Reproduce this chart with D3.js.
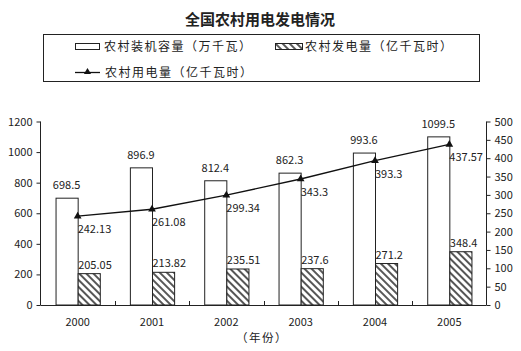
<!DOCTYPE html>
<meta charset="utf-8">
<style>
 body { margin: 0; background: #fff; }
 text { font-family: "Noto Sans CJK SC", "DejaVu Sans", sans-serif; fill: #222; }
</style>
<body>
<script src="https://d3js.org/d3.v7.min.js"></script>
<script>
 // chart data
var years = ["2000", "2001", "2002", "2003", "2004", "2005"];
var capacity = [698.5, 896.9, 812.4, 862.3, 993.6, 1099.5];       // 农村装机容量（万千瓦）
var generation = [205.05, 213.82, 235.51, 237.6, 271.2, 348.4];  // 农村发电量（亿千瓦时）
var consumption = [242.13, 261.08, 299.34, 343.3, 393.3, 437.57]; // 农村用电量（亿千瓦时）
var leftTicks = [0, 200, 400, 600, 800, 1000, 1200];
var rightTicks = [0, 50, 100, 150, 200, 250, 300, 350, 400, 450, 500];

var width = 521, height = 351;
var plot = { left: 40.5, right: 486.5, top: 121.5, bottom: 305 };

var svg = d3.select("body").append("svg")
 .attr("width", width)
 .attr("height", height)
 .style("display", "block");

 // hatch pattern for the generation bars (lines running down to the right)
var pat = svg.append("defs").append("pattern")
 .attr("id", "hatch")
 .attr("patternUnits", "userSpaceOnUse")
 .attr("width", 5).attr("height", 5)
 .attr("patternTransform", "rotate(45)");
pat.append("rect").attr("width", 5).attr("height", 5).attr("fill", "#fff");
pat.append("line")
 .attr("x1", 0).attr("y1", 1).attr("x2", 5).attr("y2", 1)
 .attr("stroke", "#444").attr("stroke-width", 1.8);

 // title
svg.append("text")
 .attr("x", 260).attr("y", 25)
 .attr("text-anchor", "middle")
 .style("font-size", "15px").style("font-weight", "bold")
 .text("全国农村用电发电情况");

 // legend
var lg = svg.append("g");
lg.append("rect")
 .attr("x", 43.5).attr("y", 34.5).attr("width", 436).attr("height", 47)
 .attr("fill", "#fff").attr("stroke", "#222");
lg.append("rect")
 .attr("x", 75.5).attr("y", 43.5).attr("width", 24).attr("height", 6)
 .attr("fill", "#fff").attr("stroke", "#222");
lg.append("text").attr("x", 104).attr("y", 51)
 .style("font-size", "12px").style("letter-spacing", "1.5px")
 .text("农村装机容量（万千瓦）");
lg.append("rect")
 .attr("x", 275.5).attr("y", 43.5).attr("width", 27).attr("height", 6)
 .attr("fill", "url(#hatch)").attr("stroke", "#222");
lg.append("text").attr("x", 305).attr("y", 51)
 .style("font-size", "12px").style("letter-spacing", "1.5px")
 .text("农村发电量（亿千瓦时）");
lg.append("line")
 .attr("x1", 75).attr("x2", 100).attr("y1", 72.5).attr("y2", 72.5)
 .attr("stroke", "#111").attr("stroke-width", 1.3);
lg.append("path")
 .attr("d", d3.symbol(d3.symbolTriangle, 22)())
 .attr("transform", "translate(87.5,72)")
 .attr("fill", "#111");
lg.append("text").attr("x", 105).attr("y", 77)
 .style("font-size", "12px").style("letter-spacing", "1.5px")
 .text("农村用电量（亿千瓦时）");

 // scales
var x0 = d3.scaleBand().domain(years).range([plot.left, plot.right]);
var x1 = d3.scaleBand().domain(["cap", "gen"]).range([0, x0.bandwidth()])
 .paddingInner(0).paddingOuter(0.68);
var yL = d3.scaleLinear().domain([0, 1200]).range([plot.bottom, plot.top]);
var yR = d3.scaleLinear().domain([0, 500]).range([plot.bottom, plot.top]);

 // axes
var axL = svg.append("g")
 .attr("transform", "translate(" + plot.left + ",0)")
 .call(d3.axisLeft(yL).tickValues(leftTicks).tickFormat(d3.format("d")).tickSize(4).tickPadding(4));
var axR = svg.append("g")
 .attr("transform", "translate(" + plot.right + ",0)")
 .call(d3.axisRight(yR).tickValues(rightTicks).tickFormat(d3.format("d")).tickSize(4).tickPadding(4));
[axL, axR].forEach(function (a) {
 a.selectAll("text").style("font-size", "11px").attr("fill", "#222");
 a.selectAll("line, path").attr("stroke", "#222");
 a.select(".domain").attr("d", "M0," + plot.top + "V" + plot.bottom);
});

 // bars
var groups = svg.selectAll("g.year")
 .data(years)
 .enter().append("g")
 .attr("class", "year")
 .attr("transform", function (d) { return "translate(" + x0(d) + ",0)"; });

groups.append("rect")
 .attr("x", x1("cap") + 0.5)
 .attr("y", function (d, i) { return yL(capacity[i]); })
 .attr("width", x1.bandwidth())
 .attr("height", function (d, i) { return plot.bottom - yL(capacity[i]); })
 .attr("fill", "#fff").attr("stroke", "#222");

groups.append("rect")
 .attr("x", x1("gen") + 0.5)
 .attr("y", function (d, i) { return yL(generation[i]); })
 .attr("width", x1.bandwidth())
 .attr("height", function (d, i) { return plot.bottom - yL(generation[i]); })
 .attr("fill", "url(#hatch)").attr("stroke", "#222");

 // bar labels
groups.append("text")
 .attr("x", x1("cap") + x1.bandwidth() / 2)
 .attr("y", function (d, i) { return yL(capacity[i]) - 9; })
 .attr("text-anchor", "middle")
 .style("font-size", "11px")
 .text(function (d, i) { return capacity[i]; });
groups.append("text")
 .attr("x", x1("gen") + 0.5)
 .attr("y", function (d, i) { return yL(generation[i]) - 5; })
 .style("font-size", "11px")
 .text(function (d, i) { return generation[i]; });

 // bottom axis: baseline and category ticks
svg.append("line")
 .attr("x1", plot.left).attr("x2", plot.right)
 .attr("y1", plot.bottom + 0.5).attr("y2", plot.bottom + 0.5)
 .attr("stroke", "#222");
svg.selectAll("line.xtick")
 .data(years.slice(1))
 .enter().append("line")
 .attr("class", "xtick")
 .attr("x1", function (d) { return Math.round(x0(d)) + 0.5; })
 .attr("x2", function (d) { return Math.round(x0(d)) + 0.5; })
 .attr("y1", plot.bottom - 4).attr("y2", plot.bottom)
 .attr("stroke", "#222");
svg.selectAll("text.xlab")
 .data(years)
 .enter().append("text")
 .attr("class", "xlab")
 .attr("x", function (d) { return x0(d) + x0.bandwidth() / 2; })
 .attr("y", 326)
 .attr("text-anchor", "middle")
 .style("font-size", "11px")
 .text(function (d) { return d; });
svg.append("text")
 .attr("x", 262).attr("y", 342)
 .attr("text-anchor", "middle")
 .style("font-size", "11.5px").style("letter-spacing", "1.5px")
 .text("（年份）");

 // consumption line on right axis
var cx = function (d, i) { return x0(years[i]) + x0.bandwidth() / 2; };
var line = d3.line()
 .x(cx)
 .y(function (d) { return yR(d); });
svg.append("path")
 .datum(consumption)
 .attr("d", line)
 .attr("fill", "none")
 .attr("stroke", "#111")
 .attr("stroke-width", 1.4);
svg.selectAll("path.mark")
 .data(consumption)
 .enter().append("path")
 .attr("class", "mark")
 .attr("d", d3.symbol(d3.symbolTriangle, 26)())
 .attr("transform", function (d, i) { return "translate(" + cx(d, i) + "," + yR(d) + ")"; })
 .attr("fill", "#111");
svg.selectAll("text.lineLab")
 .data(consumption)
 .enter().append("text")
 .attr("class", "lineLab")
 .attr("x", function (d, i) { return cx(d, i); })
 .attr("y", function (d) { return yR(d) + 17; })
 .style("font-size", "11px")
 .text(function (d) { return d; });
</script>
</body>
